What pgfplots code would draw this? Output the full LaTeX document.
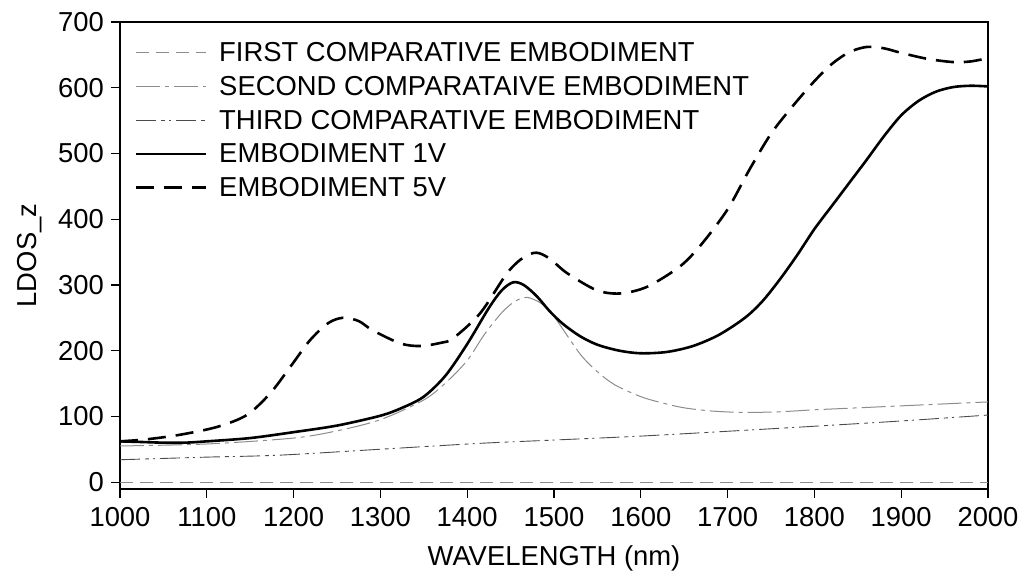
\documentclass[border=0pt]{standalone}
\usepackage{pgfplots}
\pgfplotsset{compat=1.18}
\usepackage{fontspec}
\setmainfont{Liberation Sans}
\begin{document}
\begin{tikzpicture}
\useasboundingbox (-60pt,-48pt) rectangle (452pt,244.5pt);
\begin{axis}[
  at={(0,0)}, anchor=south west,
  scale only axis, width=434pt, height=233.5pt,
  xmin=1000, xmax=2000, ymin=-10.5, ymax=700,
  xtick={1000,1100,...,2000}, ytick={0,100,...,700},
  tick align=outside, xtick pos=bottom, ytick pos=left,
  major tick length=4.5pt,
  tick style={black, line width=0.6pt},
  axis line style={black, line width=0.8pt},
  /pgf/number format/assume math mode=true,
  /pgf/number format/set thousands separator={},
  tick label style={font=\fontsize{13.7}{15}\selectfont},
  x tick label style={yshift=-1pt},
  every axis x label/.style={at={(axis description cs:0.5,-0.148)}, anchor=center, font=\fontsize{13.7}{15}\selectfont},
  every axis y label/.style={at={(axis description cs:-0.1037,0.5)}, anchor=center, rotate=90, font=\fontsize{13.7}{15}\selectfont},
  xlabel={WAVELENGTH (nm)},
  ylabel={LDOS\_z},
  legend style={draw=none, fill=none, at={(0.0095,0.972)}, anchor=north west,
    font=\fontsize{13.7}{15}\selectfont, row sep=3.9pt,
    nodes={inner sep=1pt, text height=10pt, text depth=1pt},
    /tikz/every odd column/.append style={column sep=5pt}},
  legend cell align=left,
  legend image code/.code={\draw[#1] (0pt,0pt) -- (35pt,0pt);},
]
\addplot[color=black!45, line width=0.5pt, dash pattern=on 6.5pt off 3.5pt] coordinates {(1000,0) (2000,0)};
\addlegendentry{FIRST COMPARATIVE EMBODIMENT}
\addplot[color=black!45, line width=0.5pt, smooth, dash pattern=on 12pt off 2.5pt on 2pt off 2.5pt] coordinates {
(1000,55) (1100,58) (1200,67) (1250,78) (1300,95) (1350,125) (1376,152) (1400,185) (1420,225) (1440,258) (1455,275) (1469,281) (1485,272) (1500,252) (1530,195) (1550,168) (1570,148) (1600,130) (1626,120) (1650,113) (1683,108) (1720,106) (1760,107) (1800,110) (1850,113) (1900,116) (1950,119) (2000,122)};
\addlegendentry{SECOND COMPARATAIVE EMBODIMENT}
\addplot[color=black!70, line width=0.45pt, smooth, dash pattern=on 10pt off 2.5pt on 2pt off 2pt on 1pt off 2.5pt] coordinates {
(1000,34) (1100,38) (1184,41) (1300,50) (1415,59) (1500,64) (1600,70) (1722,79) (1800,85) (1900,93) (2000,102)};
\addlegendentry{THIRD COMPARATIVE EMBODIMENT}
\addplot[color=black, line width=1.3pt, smooth] coordinates {
(1000,62) (1025,61) (1050,60) (1075,60) (1100,62) (1150,67) (1200,76) (1250,86) (1300,101) (1325,113) (1350,130) (1375,162) (1400,210) (1425,265) (1440,292) (1453,304) (1465,300) (1480,283) (1495,260) (1510,241) (1530,222) (1550,209) (1575,200) (1600,196) (1630,198) (1660,207) (1690,224) (1720,250) (1740,275) (1760,308) (1780,345) (1800,385) (1820,420) (1840,455) (1860,490) (1880,526) (1900,558) (1920,580) (1940,594) (1960,601) (1980,603) (2000,602)};
\addlegendentry{EMBODIMENT 1V}
\addplot[color=black, line width=1.3pt, smooth, dash pattern=on 9pt off 5pt] coordinates {
(1000,62) (1030,65) (1069,72) (1112,84) (1146,102) (1173,135) (1196,175) (1219,216) (1240,242) (1257,250) (1275,245) (1291,231) (1323,211) (1346,207) (1370,212) (1384,219) (1415,257) (1446,318) (1465,342) (1480,349) (1495,340) (1515,318) (1549,292) (1576,287) (1607,297) (1645,328) (1670,362) (1700,415) (1725,475) (1750,530) (1775,572) (1800,610) (1820,636) (1840,654) (1860,662) (1880,660) (1900,653) (1930,644) (1960,639) (1980,640) (2000,645)};
\addlegendentry{EMBODIMENT 5V}
\end{axis}
\end{tikzpicture}
\end{document}
